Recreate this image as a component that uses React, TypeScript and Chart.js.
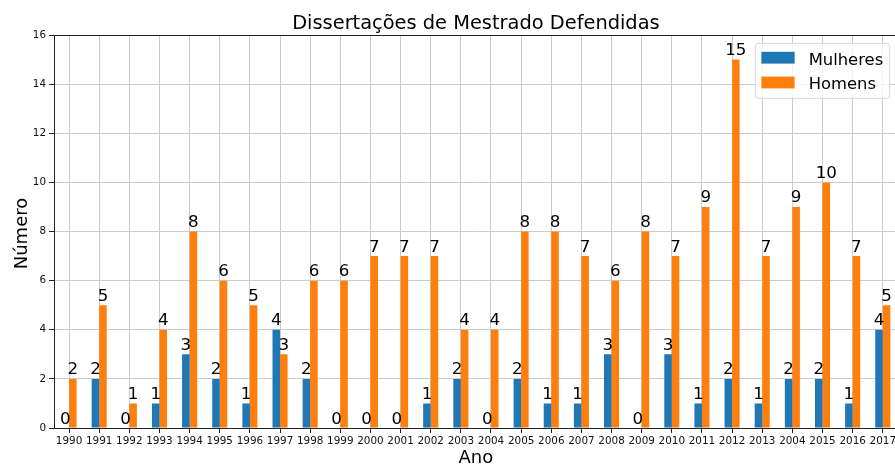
import React, { useEffect, useRef } from "react";
import { Chart, registerables } from "chart.js";

Chart.register(...registerables);

const years = [
  "1990", "1991", "1992", "1993", "1994", "1995", "1996", "1997", "1998", "1999",
  "2000", "2001", "2002", "2003", "2004", "2005", "2006", "2007", "2008", "2009",
  "2010", "2011", "2012", "2013", "2004", "2015", "2016", "2017",
];
const mulheres = [0, 2, 0, 1, 3, 2, 1, 4, 2, 0, 0, 0, 1, 2, 0, 2, 1, 1, 3, 0, 3, 1, 2, 1, 2, 2, 1, 4];
const homens = [2, 5, 1, 4, 8, 6, 5, 3, 6, 6, 7, 7, 7, 4, 4, 8, 8, 7, 6, 8, 7, 9, 15, 7, 9, 10, 7, 5];
const seriesNames = ["Mulheres", "Homens"];
const seriesColors = ["#1f77b4", "#ff7f0e"];
const yTicks = [0, 2, 4, 6, 8, 10, 12, 14, 16];
const titleText = "Dissertações de Mestrado Defendidas";
const xTitle = "Ano";
const yTitle = "Número";

const FONT = "'DejaVu Sans', sans-serif";

const decorPlugin = {
  id: "decor",
  afterDatasetsDraw(chart: any) {
    const { ctx, chartArea } = chart;
    const { left, right, top, bottom } = chartArea;
    ctx.save();
    // data labels
    ctx.fillStyle = "#000";
    ctx.font = `16.7px ${FONT}`;
    ctx.textAlign = "center";
    ctx.textBaseline = "alphabetic";
    chart.data.datasets.forEach((ds: any, i: number) => {
      const meta = chart.getDatasetMeta(i);
      meta.data.forEach((el: any, j: number) => {
        ctx.fillText(String(ds.data[j]), el.x, el.y - 4.5);
      });
    });
    // spines top/right
    ctx.strokeStyle = "#222";
    ctx.lineWidth = 1;
    ctx.beginPath();
    ctx.moveTo(left, Math.round(top) + 0.5);
    ctx.lineTo(right, Math.round(top) + 0.5);
    ctx.moveTo(Math.round(right) - 0.5, top);
    ctx.lineTo(Math.round(right) - 0.5, bottom);
    ctx.stroke();
    // title
    const cx = (left + right) / 2;
    ctx.font = `19.4px ${FONT}`;
    ctx.fillStyle = "#000";
    ctx.textAlign = "center";
    ctx.fillText(titleText, cx, top - 6);
    // x title
    ctx.font = `18px ${FONT}`;
    ctx.fillText(xTitle, cx, bottom + 35);
    // y title
    ctx.save();
    ctx.translate(26.5, (top + bottom) / 2 + 2);
    ctx.rotate(-Math.PI / 2);
    ctx.fillText(yTitle, 0, 0);
    ctx.restore();
    // legend
    const lx = right - 8.2 - 134.3;
    const ly = top + 8.3;
    const lw = 134.3;
    const lh = 55;
    ctx.beginPath();
    const r = 3;
    ctx.moveTo(lx + r, ly);
    ctx.lineTo(lx + lw - r, ly);
    ctx.quadraticCurveTo(lx + lw, ly, lx + lw, ly + r);
    ctx.lineTo(lx + lw, ly + lh - r);
    ctx.quadraticCurveTo(lx + lw, ly + lh, lx + lw - r, ly + lh);
    ctx.lineTo(lx + r, ly + lh);
    ctx.quadraticCurveTo(lx, ly + lh, lx, ly + lh - r);
    ctx.lineTo(lx, ly + r);
    ctx.quadraticCurveTo(lx, ly, lx + r, ly);
    ctx.closePath();
    ctx.fillStyle = "rgba(255,255,255,0.8)";
    ctx.fill();
    ctx.strokeStyle = "#d6d6d6";
    ctx.lineWidth = 1;
    ctx.stroke();
    ctx.font = `16.4px ${FONT}`;
    ctx.textAlign = "left";
    seriesNames.forEach((name, i) => {
      const rowY = ly + 8.5 + i * 24.8;
      ctx.fillStyle = seriesColors[i];
      ctx.fillRect(lx + 6, rowY, 33.3, 11.8);
      ctx.fillStyle = "#000";
      ctx.fillText(name, lx + 53.3, rowY + 12.8);
    });
    ctx.restore();
  },
};

export default function App() {
  const ref = useRef<HTMLCanvasElement | null>(null);
  useEffect(() => {
    if (!ref.current) return;
    const chart = new Chart(ref.current, {
      type: "bar",
      data: {
        labels: years,
        datasets: [
          { label: seriesNames[0], data: mulheres, backgroundColor: seriesColors[0], categoryPercentage: 0.5, barPercentage: 1.0 },
          { label: seriesNames[1], data: homens, backgroundColor: seriesColors[1], categoryPercentage: 0.5, barPercentage: 1.0 },
        ],
      },
      options: {
        animation: false,
        responsive: false,
        devicePixelRatio: 1,
        layout: { padding: { top: 35, left: 0, right: 0, bottom: 0 }, autoPadding: false },
        plugins: { legend: { display: false }, tooltip: { enabled: false }, title: { display: false } },
        scales: {
          x: {
            type: "category",
            offset: true,
            grid: { offset: false, color: "#cbcbcb", lineWidth: 1, tickLength: 5, tickColor: "#222", drawTicks: true },
            border: { display: true, color: "#222", width: 1 },
            ticks: { color: "#111", font: { family: FONT, size: 10.4 }, maxRotation: 0, minRotation: 0, autoSkip: false, padding: 2 },
            afterFit: (s: any) => { s.height = 37; },
          },
          y: {
            min: 0,
            max: 16,
            afterBuildTicks: (s: any) => { s.ticks = yTicks.map((v) => ({ value: v })); },
            grid: { color: "#cbcbcb", lineWidth: 1, tickLength: 5, tickColor: "#222", drawTicks: true },
            border: { display: true, color: "#222", width: 1 },
            ticks: { color: "#111", font: { family: FONT, size: 10.4 }, padding: 3 },
            afterFit: (s: any) => { s.width = 54; },
          },
        },
      },
      plugins: [decorPlugin],
    } as any);
    return () => chart.destroy();
  }, []);
  return (
    <div style={{ position: "absolute", left: 0, top: 0, width: 895, height: 465, overflow: "hidden", background: "#fff" }}>
      <canvas ref={ref} width={898} height={465} style={{ width: 898, height: 465, display: "block" }} />
    </div>
  );
}
